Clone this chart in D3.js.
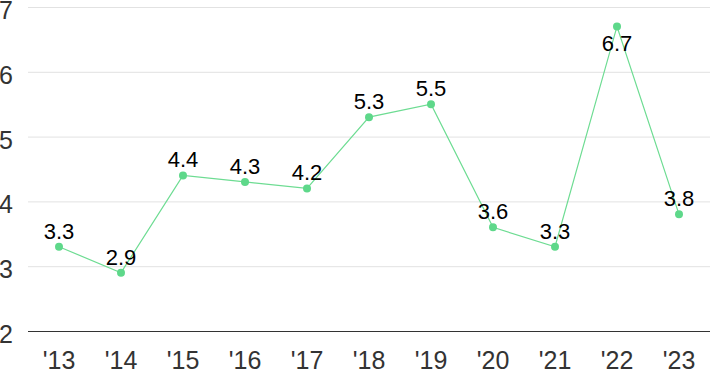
<!DOCTYPE html>
<html><head><meta charset="utf-8">
<script src="https://cdn.jsdelivr.net/npm/d3@7"></script>
<style>body{margin:0;background:#fff}svg{display:block}text{font-family:"Liberation Sans",Arial,sans-serif}</style>
</head><body><div id="c"></div>
<script>
const years = ["'13","'14","'15","'16","'17","'18","'19","'20","'21","'22","'23"];
const values = [3.3,2.9,4.4,4.3,4.2,5.3,5.5,3.6,3.3,6.7,3.8];
const yTicks = [2,3,4,5,6,7];

const W=710,H=371;
const svg=d3.select("#c").append("svg").attr("width",W).attr("height",H);
const x=d3.scaleBand().domain(years).range([28,710]);
const y=d3.scaleLinear().domain([2,7]).range([331,7]);

svg.append("g").selectAll("line").data(yTicks).join("line")
  .attr("x1",28).attr("x2",710).attr("y1",d=>y(d)+0.5).attr("y2",d=>y(d)+0.5)
  .attr("stroke",d=>d===2?"#333":"#e2e2e2").attr("stroke-width",1);
svg.append("g").selectAll("text").data(yTicks).join("text")
  .attr("x",-1).attr("y",d=>y(d)+12).attr("font-size",25).attr("fill","#333").text(d=>d);
svg.append("g").selectAll("text").data(years).join("text")
  .attr("x",d=>x(d)+x.bandwidth()/2).attr("y",369).attr("text-anchor","middle")
  .attr("font-size",25).attr("fill","#333").text(d=>d);

const cx=(d,i)=>x(years[i])+x.bandwidth()/2;
svg.append("path").datum(values).attr("fill","none").attr("stroke","#6ddc92").attr("stroke-width",1.2)
  .attr("d",d3.line().x(cx).y(d=>y(d)));
svg.append("g").selectAll("circle").data(values).join("circle")
  .attr("cx",cx).attr("cy",d=>y(d)).attr("r",4).attr("fill","#5ed88a");
svg.append("g").selectAll("text").data(values).join("text")
  .attr("x",cx).attr("y",(d,i)=>i===9?y(d)+25:y(d)-8).attr("text-anchor","middle")
  .attr("font-size",22).attr("fill","#000").text(d=>d.toFixed(1));
</script></body></html>
